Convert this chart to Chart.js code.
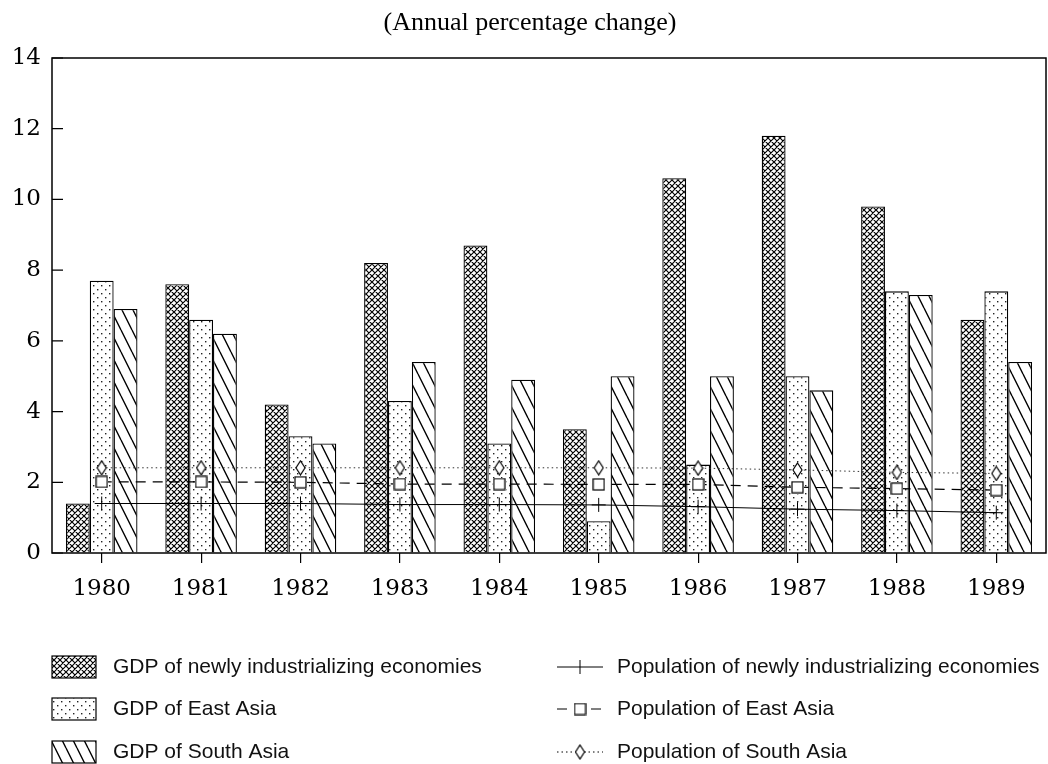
<!DOCTYPE html>
<html>
<head>
<meta charset="utf-8">
<script src="https://cdn.jsdelivr.net/npm/chart.js@4.4.1/dist/chart.umd.min.js"></script>
<style>
  html, body { margin: 0; padding: 0; background: #fff; }
</style>
</head>
<body>
<canvas id="myChart" width="1048" height="764"></canvas>
<script>
// Annual percentage change, 1980-1989

const years = ['1980', '1981', '1982', '1983', '1984', '1985', '1986', '1987', '1988', '1989'];

const gdpNIE   = [1.4, 7.6, 4.2, 8.2, 8.7, 3.5, 10.6, 11.8, 9.8, 6.6];
const gdpEast  = [7.7, 6.6, 3.3, 4.3, 3.1, 0.9, 2.5, 5.0, 7.4, 7.4];
const gdpSouth = [6.9, 6.2, 3.1, 5.4, 4.9, 5.0, 5.0, 4.6, 7.3, 5.4];

const popNIE   = [1.40, 1.40, 1.40, 1.37, 1.37, 1.36, 1.31, 1.24, 1.20, 1.14];
const popEast  = [2.01, 2.01, 2.00, 1.95, 1.95, 1.94, 1.94, 1.86, 1.82, 1.78];
const popSouth = [2.41, 2.41, 2.41, 2.41, 2.41, 2.41, 2.40, 2.35, 2.28, 2.25];

const yTicks = [0, 2, 4, 6, 8, 10, 12, 14];

const legendLeft  = ['GDP of newly industrializing economies', 'GDP of East Asia', 'GDP of South Asia'];
const legendRight = ['Population of newly industrializing economies', 'Population of East Asia', 'Population of South Asia'];

// fill patterns
function makeTile(w, h, draw) {
    const c = document.createElement('canvas');
    c.width = w; c.height = h;
    const g = c.getContext('2d');
    g.fillStyle = '#fff';
    g.fillRect(0, 0, w, h);
    draw(g, w, h);
    return c.getContext('2d').createPattern(c, 'repeat');
}

const crossHatch = makeTile(6, 6, (g, w, h) => {
    g.strokeStyle = '#000';
    g.lineWidth = 1.2;
    g.beginPath();
    for (let k = -1; k <= 1; k++) {
        g.moveTo(k * w, 0); g.lineTo(k * w + w, h);
        g.moveTo(k * w + w, 0); g.lineTo(k * w, h);
    }
    g.stroke();
});

const dots = makeTile(8, 8, (g) => {
    g.fillStyle = '#222';
    g.fillRect(1, 1, 1.4, 1.4);
    g.fillRect(5, 5, 1.4, 1.4);
});

const hatch = makeTile(11, 22, (g, w, h) => {
    g.strokeStyle = '#000';
    g.lineWidth = 1.4;
    g.beginPath();
    for (let k = -1; k <= 1; k++) {
        g.moveTo(k * w, 0); g.lineTo(k * w + w, h);
    }
    g.stroke();
});

// point markers
function makeMarker(w, h, draw) {
    const c = document.createElement('canvas');
    c.width = w; c.height = h;
    draw(c.getContext('2d'), w, h);
    return c;
}

const squareMark = makeMarker(13, 13, (g, w, h) => {
    g.fillStyle = '#fff';
    g.fillRect(0, 0, w, h);
    g.strokeStyle = '#000';
    g.lineWidth = 1.2;
    g.strokeRect(1, 1, w - 2, h - 2);
});

const diamondMark = makeMarker(11, 16, (g, w, h) => {
    g.fillStyle = '#fff';
    g.strokeStyle = '#000';
    g.lineWidth = 1.2;
    g.beginPath();
    g.moveTo(w / 2, 1); g.lineTo(w - 1, h / 2); g.lineTo(w / 2, h - 1); g.lineTo(1, h / 2);
    g.closePath();
    g.fill(); g.stroke();
});

// title, frame, inward ticks and legend
const decorations = {
    id: 'decorations',
    afterDatasetsDraw(chart) {
        const { ctx, chartArea: a, scales: { y } } = chart;
        ctx.save();
        ctx.strokeStyle = '#000';
        ctx.lineWidth = 1.5;
        ctx.strokeRect(a.left, a.top, a.right - a.left, a.bottom - a.top);
        ctx.lineWidth = 1.2;
        ctx.beginPath();
        y.ticks.forEach(t => {
            const py = y.getPixelForValue(t.value);
            ctx.moveTo(a.left, py);
            ctx.lineTo(a.left + 11, py);
        });
        ctx.stroke();
        ctx.restore();
    },
    afterDraw(chart) {
        const ctx = chart.ctx;
        const ds = chart.data.datasets;
        ctx.save();
        ctx.fillStyle = '#000';
        ctx.font = '26px "Liberation Serif"';
        ctx.textAlign = 'center';
        ctx.textBaseline = 'middle';
        ctx.fillText('(Annual percentage change)', 530, 23);

        const rows = [667, 709, 752];
        ctx.font = '21px "Liberation Sans"';
        ctx.textAlign = 'left';
        for (let i = 0; i < 3; i++) {
            const ry = rows[i];
            // bar swatch
            ctx.fillStyle = ds[i].backgroundColor;
            ctx.fillRect(52, ry - 11, 44, 22);
            ctx.strokeStyle = '#000';
            ctx.lineWidth = 1.2;
            ctx.setLineDash([]);
            ctx.strokeRect(52, ry - 11, 44, 22);
            ctx.fillStyle = '#111';
            ctx.fillText(legendLeft[i], 113, ry);

            // line sample
            const ld = ds[i + 3];
            ctx.strokeStyle = '#000';
            ctx.lineWidth = 1;
            ctx.setLineDash(ld.borderDash || []);
            ctx.beginPath();
            ctx.moveTo(557, ry); ctx.lineTo(603, ry);
            ctx.stroke();
            ctx.setLineDash([]);
            if (ld.pointStyle === 'cross') {
                ctx.beginPath();
                ctx.moveTo(580, ry - 7); ctx.lineTo(580, ry + 7);
                ctx.stroke();
            } else {
                const m = ld.pointStyle;
                ctx.drawImage(m, 580 - m.width / 2, ry - m.height / 2);
            }
            ctx.fillStyle = '#111';
            ctx.fillText(legendRight[i], 617, ry);
        }
        ctx.restore();
    }
};

const tickFont = { family: '"DejaVu Serif"', size: 23 };

const ctx = document.getElementById('myChart');
const myChart = new Chart(ctx, {
    type: 'bar',
    data: {
        labels: years,
        datasets: [
            { label: legendLeft[0], data: gdpNIE, backgroundColor: crossHatch, borderColor: '#000', borderWidth: 1.3, order: 2 },
            { label: legendLeft[1], data: gdpEast, backgroundColor: dots, borderColor: '#000', borderWidth: 1.3, order: 2 },
            { label: legendLeft[2], data: gdpSouth, backgroundColor: hatch, borderColor: '#000', borderWidth: 1.3, order: 2 },
            { type: 'line', label: legendRight[0], data: popNIE, borderColor: '#000', borderWidth: 1,
              pointStyle: 'cross', pointRadius: 7, pointBorderColor: '#000', pointBorderWidth: 1, order: 0 },
            { type: 'line', label: legendRight[1], data: popEast, borderColor: '#000', borderWidth: 1.2, borderDash: [10, 7],
              pointStyle: squareMark, pointRadius: 7, order: 0 },
            { type: 'line', label: legendRight[2], data: popSouth, borderColor: '#333', borderWidth: 1, borderDash: [1.5, 3],
              pointStyle: diamondMark, pointRadius: 7, order: 0 }
        ]
    },
    options: {
        responsive: false,
        animation: false,
        categoryPercentage: 0.72,
        barPercentage: 1.0,
        layout: { autoPadding: false, padding: { top: 58, right: 2, bottom: 151, left: 0 } },
        scales: {
            x: {
                grid: { display: true, offset: false, drawOnChartArea: false, drawTicks: true, tickLength: 10, color: '#000', lineWidth: 1.2 },
                border: { display: false },
                ticks: { font: tickFont, color: '#000', padding: 12, maxRotation: 0 },
                afterFit: s => { s.height = 60; }
            },
            y: {
                min: 0,
                max: 14,
                afterBuildTicks: s => { s.ticks = yTicks.map(v => ({ value: v })); },
                grid: { display: true, drawOnChartArea: false, drawTicks: false },
                border: { display: false },
                ticks: { font: tickFont, color: '#000', padding: 11 },
                afterFit: s => { s.width = 52; }
            }
        },
        plugins: {
            legend: { display: false },
            tooltip: { enabled: false }
        }
    },
    plugins: [decorations]
});
</script>
</body>
</html>
